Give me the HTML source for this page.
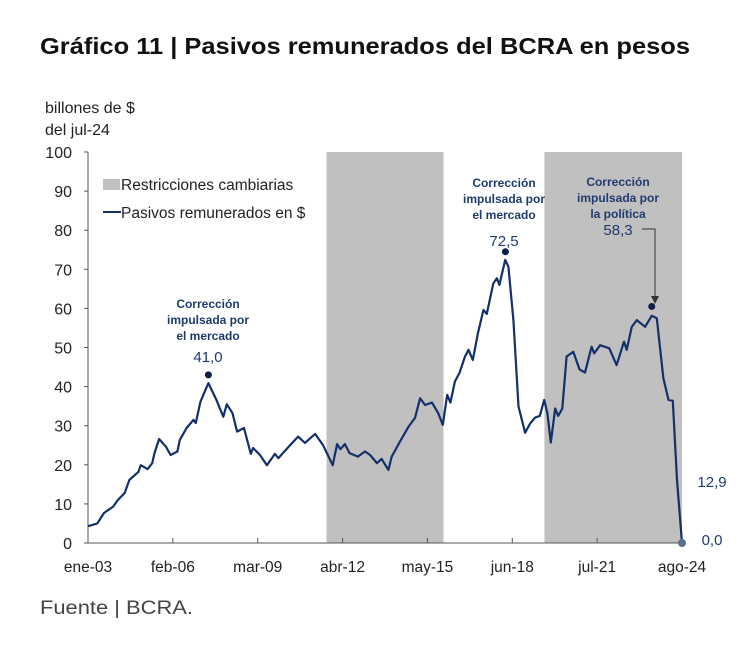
<!DOCTYPE html>
<html><head><meta charset="utf-8"><style>
body{margin:0;background:#fff;width:750px;height:657px;overflow:hidden;font-family:"Liberation Sans",sans-serif}
</style></head><body>
<svg width="750" height="657" viewBox="0 0 750 657" xmlns="http://www.w3.org/2000/svg">
<text x="40" y="54" font-size="23" font-weight="bold" fill="#111" textLength="650" lengthAdjust="spacingAndGlyphs">Gráfico 11 | Pasivos remunerados del BCRA en pesos</text>
<text x="45" y="113" font-size="16" fill="#222">billones de $</text>
<text x="45" y="135" font-size="16" fill="#222">del jul-24</text>
<g id="shades"></g>
<g id="axes"></g>
<g id="series"></g>
<g id="annot"></g>
<rect x="103" y="179" width="17" height="11" fill="#c0c0c0"/>
<text x="121" y="190" font-size="15.5" fill="#222">Restricciones cambiarias</text>
<line x1="103" y1="212" x2="121" y2="212" stroke="#13306a" stroke-width="2"/>
<text x="121" y="218" font-size="15.5" fill="#222">Pasivos remunerados en $</text>
<text x="40" y="614" font-size="19" fill="#444" textLength="153" lengthAdjust="spacingAndGlyphs">Fuente | BCRA.</text>
</svg>
<script>
const months=[0,4,7,11,13,16,18,22,23,26,28,29,31,34,36,39,40,43,46,47,49,52.5,56,59,60.5,63,65,68,71,72,75,78,81.5,83,85,87,91.6,94.6,99,102.5,106.7,108.6,110,112,114,117.7,120.8,123,126,128,131,132.4,136,139.7,142.6,144.8,147,150,152.7,154.7,156.6,158,160,162,164.4,165.9,167.8,170,172.4,173.9,176.7,178.3,179.4,181.9,183.3,185.5,187.7,190.6,192.8,195,197,198.9,200.3,201.8,203.7,205,206.8,208.7,211.6,214.3,216.7,219.6,220.7,223.3,227.3,230.5,233.7,234.9,237.1,239.3,242.9,245.8,248,250.9,253.1,255,256.8,259];
const values=[4.3,5.0,7.7,9.3,11,12.8,16.1,18.2,19.9,18.9,20.4,23,26.6,24.6,22.5,23.4,26.3,29.4,31.5,30.7,36.1,40.9,36.6,32.3,35.5,33.2,28.5,29.4,22.8,24.3,22.5,19.9,22.8,21.7,23,24.3,27.2,25.6,27.9,25,19.9,25.3,24,25.3,23,22.1,23.4,22.5,20.4,21.5,18.7,22.1,25.9,29.7,32,37,35.3,35.9,33.2,30.2,37.9,35.9,41.3,43.5,47.7,49.4,46.8,53.6,59.6,58.6,66.4,67.7,66,72.4,70.7,57,34.9,28.2,30.6,32.1,32.5,36.6,33.2,25.7,34.4,32.5,34.4,47.7,48.9,44.4,43.6,50.2,48.5,50.6,49.8,45.5,51.5,49.4,55.3,57,55.3,58.1,57.5,42.1,36.6,36.4,16.1,0];
const tickMonths=[0,37,74,111,148,185,222,259];
const tickLabels=["ene-03","feb-06","mar-09","abr-12","may-15","jun-18","jul-21","ago-24"];
const yTicks=[0,10,20,30,40,50,60,70,80,90,100];
const shadeStarts=[104,199];
const shadeEnds=[155,259];
const NS="http://www.w3.org/2000/svg";
const X=m=>88+m*(594/259);
const Y=v=>543-v*3.91;
function mk(t,a,p){const e=document.createElementNS(NS,t);for(const k in a)e.setAttribute(k,a[k]);document.getElementById(p).appendChild(e);return e;}
shadeStarts.forEach((s,i)=>{const r=mk('rect',{x:X(s),y:Y(100),width:X(shadeEnds[i])-X(s),height:Y(0)-Y(100),fill:'#c0c0c0'},'shades');

});
const ax=mk('path',{d:`M${X(0)} ${Y(100)}V${Y(0)}H${X(259)}`,stroke:'#555',fill:'none','stroke-width':1},'axes');


yTicks.forEach(v=>{mk('line',{x1:84,x2:88,y1:Y(v),y2:Y(v),stroke:'#555'},'axes');
const t=mk('text',{x:72,y:Y(v)+6,'text-anchor':'end','font-size':16,fill:'#222'},'axes');t.textContent=v;

});
tickMonths.forEach((m,i)=>{mk('line',{x1:X(m),x2:X(m),y1:Y(0),y2:Y(0)-5,stroke:'#555'},'axes');
const t=mk('text',{x:X(m),y:572,'text-anchor':'middle','font-size':15.5,fill:'#222'},'axes');t.textContent=tickLabels[i];

});
const ln=mk('path',{d:months.map((m,i)=>(i?'L':'M')+X(m).toFixed(1)+' '+Y(values[i]).toFixed(1)).join(''),stroke:'#13306a','stroke-width':2.2,fill:'none','stroke-linejoin':'round'},'series');


function txt(x,y,s,o){const t=mk('text',Object.assign({x:x,y:y,'text-anchor':'middle',fill:'#1f3a6e'},o),'annot');t.textContent=s;return t;}
const ab={'font-size':12,'font-weight':'bold'};
txt(208,308,'Corrección',ab);txt(208,324,'impulsada por',ab);txt(208,340,'el mercado',ab);
txt(208,362,'41,0',{'font-size':15});
txt(504,187,'Corrección',ab);txt(504,203,'impulsada por',ab);txt(504,219,'el mercado',ab);
txt(504,246,'72,5',{'font-size':15});
txt(618,186,'Corrección',ab);txt(618,202,'impulsada por',ab);txt(618,218,'la política',ab);
txt(618,235,'58,3',{'font-size':15});
txt(712,487,'12,9',{'font-size':15});
txt(712,545,'0,0',{'font-size':15});
mk('path',{d:'M642 229H655V298',stroke:'#333',fill:'none','stroke-width':1},'annot');
mk('path',{d:'M651 296L655 304L659 296Z',fill:'#333'},'annot');
[[52.5,43],[182,74.5],[245.8,60.5]].forEach(p=>{const c=mk('circle',{cx:X(p[0]),cy:Y(p[1]),r:3.5,fill:'#0f1f45'},'annot');

});
const z=mk('circle',{cx:X(259),cy:Y(0),r:4,fill:'#5a6f8c'},'annot');


</script>
</body></html>
